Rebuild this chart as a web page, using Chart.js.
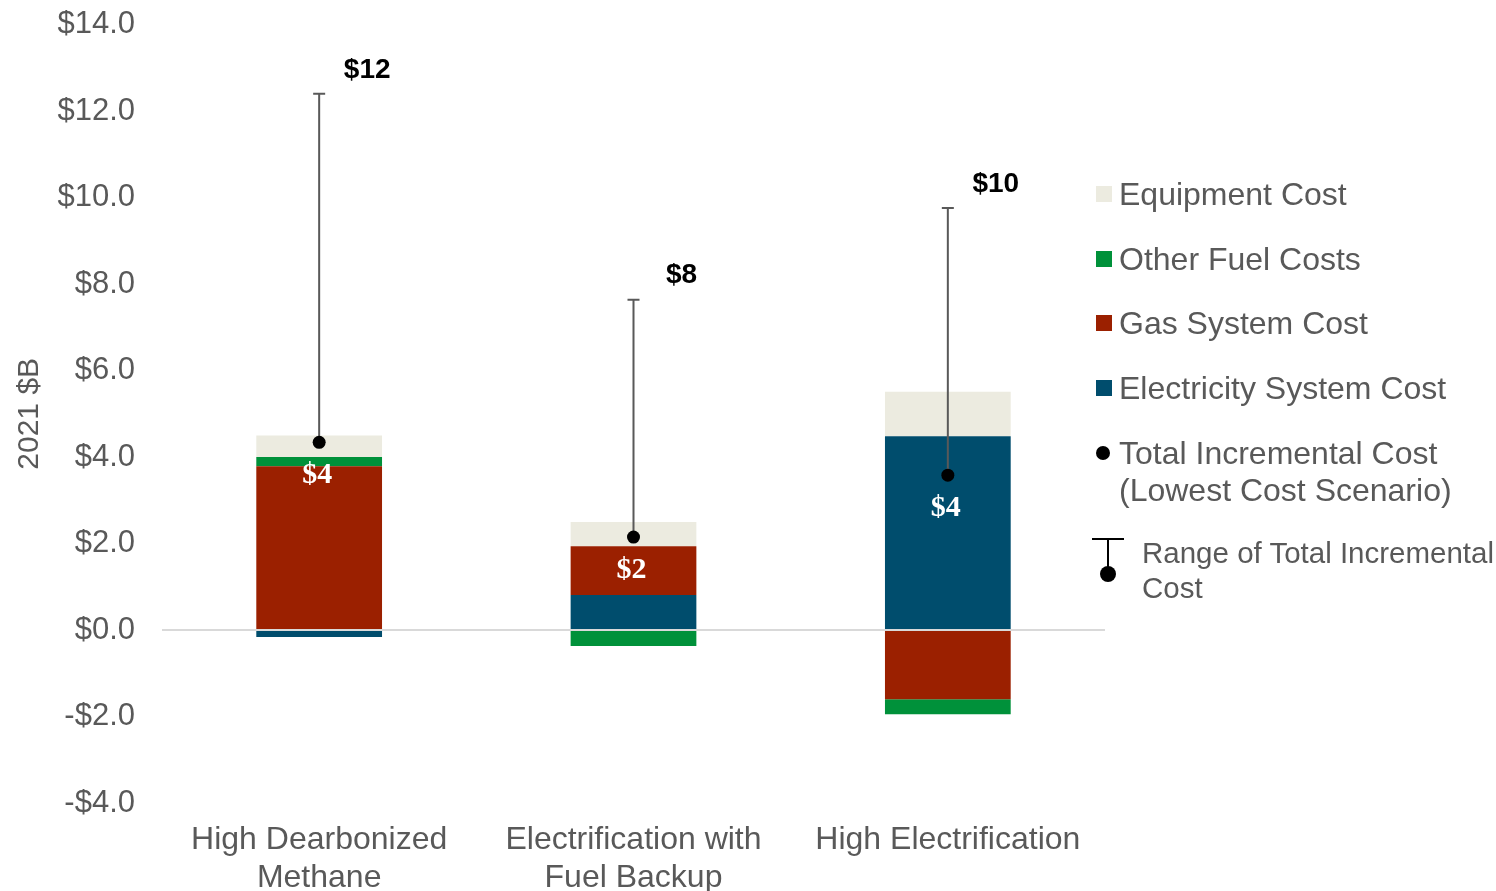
<!DOCTYPE html>
<html>
<head>
<meta charset="utf-8">
<script src="https://cdn.jsdelivr.net/npm/chart.js@4.4.1/dist/chart.umd.min.js"></script>
<style>
  body { margin: 0; background: #fff; font-family: Arial, "Liberation Sans", sans-serif; overflow: hidden; }
  #wrap { position: relative; width: 1496px; height: 891px; overflow: hidden; }
  #myChart { position: absolute; left: 0; top: -21px; }
  #legend { position: absolute; left: 0; top: 0; color: #595959; font-size: 32px; }
  .item { position: absolute; white-space: nowrap; line-height: 37px; }
  .sw { position: absolute; width: 16px; height: 16px; }
</style>
</head>
<body>
<div id="wrap">
  <canvas id="myChart" width="1496" height="915"></canvas>
  <div id="legend"></div>
</div>
<script>
// categories and values ($B, 2021)
const categories = [['High Dearbonized', 'Methane'], ['Electrification with', 'Fuel Backup'], ['High Electrification']];
const electricity = [-0.16, 0.81, 4.48];
const gasSystem = [3.79, 1.13, -1.6];
const otherFuel = [0.21, -0.37, -0.35];
const equipment = [0.5, 0.56, 1.03];
const totalLowest = [4.34, 2.15, 3.58];
const totalHighest = [12.4, 7.64, 9.76];
const rangeLabels = ['$12', '$8', '$10'];
const totalLabels = ['$4', '$2', '$4'];

const seriesNames = ['Electricity System Cost', 'Gas System Cost', 'Other Fuel Costs', 'Equipment Cost'];
const seriesColors = ['#004d6d', '#9b2000', '#00913a', '#ecebe0'];

const grey = '#595959';

let rangePlugin = {
  id: 'rangeBars',
  beforeDatasetDraw(chart, args) {
    if (args.index !== 4) return; // range lines go just under the dots
    const ctx = chart.ctx, x = chart.scales.x, y = chart.scales.y;
    ctx.save();
    ctx.strokeStyle = grey;
    ctx.lineWidth = 2;
    totalHighest.forEach((v, i) => {
      const px = x.getPixelForValue(i);
      const top = y.getPixelForValue(v);
      const bot = y.getPixelForValue(totalLowest[i]);
      ctx.beginPath();
      ctx.moveTo(px, bot); ctx.lineTo(px, top);
      ctx.moveTo(px - 6, top); ctx.lineTo(px + 6, top);
      ctx.stroke();
    });
    ctx.restore();
  },
  afterDatasetsDraw(chart) {
    const ctx = chart.ctx, x = chart.scales.x, y = chart.scales.y;
    ctx.save();
    ctx.textAlign = 'center';
    ctx.textBaseline = 'middle';
    totalHighest.forEach((v, i) => {
      const px = x.getPixelForValue(i);
      ctx.fillStyle = '#000';
      ctx.font = 'bold 28px Arial, "Liberation Sans", sans-serif';
      ctx.fillText(rangeLabels[i], px + 48, y.getPixelForValue(v) - 24);
      ctx.fillStyle = '#fff';
      ctx.font = 'bold 30px "Liberation Serif", "DejaVu Serif", serif';
      ctx.fillText(totalLabels[i], px - 2, y.getPixelForValue(totalLowest[i]) + 33);
    });
    ctx.restore();
  }
};

let plot = () => {
  const ctx = document.getElementById('myChart');
  const values = [electricity, gasSystem, otherFuel, equipment];

  const datasets = values.map((d, i) => ({
    type: 'bar',
    label: seriesNames[i],
    data: d,
    backgroundColor: seriesColors[i],
    borderWidth: 0,
    barPercentage: 0.4,
    categoryPercentage: 1.0
  }));
  datasets.push({
    type: 'line',
    label: 'Total Incremental Cost',
    data: totalLowest,
    stack: 'dots',
    showLine: false,
    pointRadius: 6.5,
    pointBackgroundColor: '#000',
    pointBorderWidth: 0,
    order: -1
  });

  const config = {
    data: { labels: categories, datasets: datasets },
    options: {
      responsive: false,
      animation: false,
      layout: { padding: { top: 0, right: 391, left: 0, bottom: 0 } },
      plugins: { legend: { display: false }, tooltip: { enabled: false } },
      scales: {
        x: {
          stacked: true,
          grid: { display: false, drawTicks: false },
          border: { display: false },
          ticks: {
            color: grey,
            padding: 19,
            font: { family: 'Arial, "Liberation Sans", sans-serif', size: 32, lineHeight: 1.16 }
          },
          afterFit(scale) { scale.height = 91; }
        },
        y: {
          stacked: true,
          min: -4,
          max: 14,
          grid: {
            drawTicks: false,
            lineWidth: 2,
            color: (c) => c.tick && c.tick.value === 0 ? '#d9d9d9' : 'rgba(0,0,0,0)'
          },
          border: { display: false },
          ticks: {
            stepSize: 2,
            color: grey,
            padding: 27,
            font: { family: 'Arial, "Liberation Sans", sans-serif', size: 31 },
            callback: (v) => (v < 0 ? '-$' : '$') + Math.abs(v).toFixed(1)
          },
          title: {
            display: true,
            text: '2021 $B',
            color: grey,
            padding: { top: 12, bottom: 0 },
            font: { family: 'Arial, "Liberation Sans", sans-serif', size: 30 }
          },
          afterFit(scale) { scale.width = 162; }
        }
      }
    },
    plugins: [rangePlugin]
  };
  new Chart(ctx, config);
};

// legend on the right, built from the same names / colours
let legend = () => {
  const box = document.getElementById('legend');
  const rows = [194, 259, 323, 388];
  const orderIdx = [3, 2, 1, 0];
  orderIdx.forEach((k, r) => {
    const sw = document.createElement('div');
    sw.className = 'sw';
    sw.style.left = '1096px';
    sw.style.top = (rows[r] - 8) + 'px';
    sw.style.background = seriesColors[k];
    box.appendChild(sw);
    const t = document.createElement('div');
    t.className = 'item';
    t.style.left = '1119px';
    t.style.top = (rows[r] - 18) + 'px';
    t.textContent = seriesNames[k];
    box.appendChild(t);
  });

  const dot = document.createElement('div');
  dot.className = 'sw';
  dot.style.cssText += 'left:1096px;top:446px;width:14px;height:14px;border-radius:50%;background:#000;';
  box.appendChild(dot);
  const t1 = document.createElement('div');
  t1.className = 'item';
  t1.style.left = '1119px';
  t1.style.top = '435px';
  t1.innerHTML = 'Total Incremental Cost<br>(Lowest Cost Scenario)';
  box.appendChild(t1);

  const cap = document.createElement('div');
  cap.className = 'sw';
  cap.style.cssText += 'left:1092px;top:538px;width:32px;height:2px;background:#000;';
  box.appendChild(cap);
  const stem = document.createElement('div');
  stem.className = 'sw';
  stem.style.cssText += 'left:1107px;top:538px;width:2px;height:34px;background:#000;';
  box.appendChild(stem);
  const rdot = document.createElement('div');
  rdot.className = 'sw';
  rdot.style.cssText += 'left:1100px;top:566px;width:16px;height:16px;border-radius:50%;background:#000;';
  box.appendChild(rdot);
  const t2 = document.createElement('div');
  t2.className = 'item';
  t2.style.left = '1142px';
  t2.style.top = '535px';
  t2.style.fontSize = '29.5px';
  t2.style.lineHeight = '35px';
  t2.innerHTML = 'Range of Total Incremental<br>Cost';
  box.appendChild(t2);
};

plot();
legend();
</script>
</body>
</html>
